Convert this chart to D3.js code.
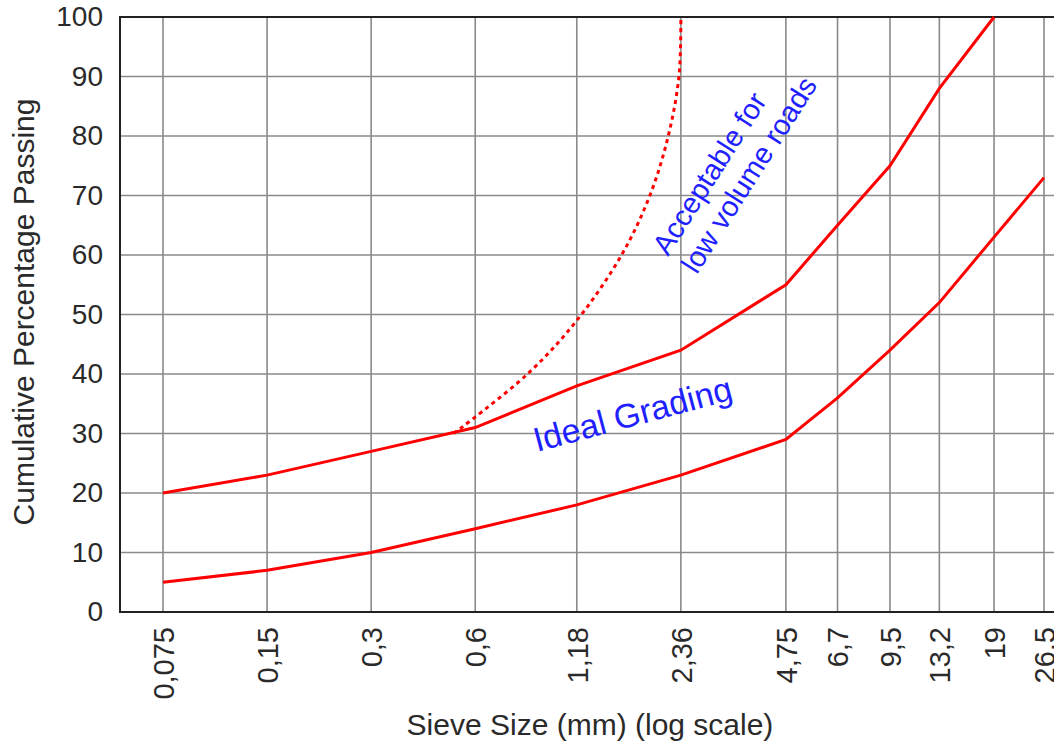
<!DOCTYPE html>
<html lang="en">
<head>
<meta charset="utf-8">
<title>Sieve grading curves</title>
<script src="https://d3js.org/d3.v7.min.js"></script>
<style>
    body { margin: 0; background: #fff; font-family: "Liberation Sans", Arial, sans-serif; }
    .grid line { stroke: #8a8a8a; stroke-width: 1.6px; }
    .frame { stroke: #222; stroke-width: 2px; fill: none; }
    .tick text { fill: #2a2a2a; }
    .curve { fill: none; stroke: #ff0000; stroke-width: 3px; }
    .note { fill: #1f1fff; }
</style>
</head>
<body>
<div id="chart"></div>
<script>
// sieve sizes (mm) and their labels
var sieves = [0.075, 0.15, 0.3, 0.6, 1.18, 2.36, 4.75, 6.7, 9.5, 13.2, 19, 26.5];
var sieveLabels = ["0,075", "0,15", "0,3", "0,6", "1,18", "2,36", "4,75", "6,7", "9,5", "13,2", "19", "26,5"];
var yTicks = [0, 10, 20, 30, 40, 50, 60, 70, 80, 90, 100];

// ideal grading envelope
var upperSizes = [0.075, 0.15, 0.3, 0.6, 1.18, 2.36, 4.75, 6.7, 9.5, 13.2, 19];
var upperPass  = [20, 23, 27, 31, 38, 44, 55, 65, 75, 88, 100];
var lowerSizes = [0.075, 0.15, 0.3, 0.6, 1.18, 2.36, 4.75, 6.7, 9.5, 13.2, 19, 26.5];
var lowerPass  = [5, 7, 10, 14, 18, 23, 29, 36, 44, 52, 63, 73];

// acceptable for low volume roads (dotted)
var lowVolSizes = [0.52, 0.85, 1.18, 1.59, 1.92, 2.17, 2.33, 2.36];
var lowVolPass  = [30, 40, 49, 60, 70, 80, 90, 100];

var width = 1054, height = 750,
    plotLeft = 120, plotRight = 1054, plotTop = 17, plotBottom = 612;

var svg = d3.select("#chart").append("svg")
    .attr("width", width)
    .attr("height", height);

var x = d3.scaleLog().domain([0.075, 26.5]).range([163, 1044]);
var y = d3.scaleLinear().domain([0, 100]).range([plotBottom, plotTop]);

// grid
var grid = svg.append("g").attr("class", "grid");
grid.selectAll("line.h").data(yTicks.slice(1, -1)).enter().append("line")
    .attr("class", "h")
    .attr("x1", plotLeft).attr("x2", plotRight)
    .attr("y1", function(d) { return y(d); })
    .attr("y2", function(d) { return y(d); });
grid.selectAll("line.v").data(sieves).enter().append("line")
    .attr("class", "v")
    .attr("x1", function(d) { return x(d); })
    .attr("x2", function(d) { return x(d); })
    .attr("y1", plotTop).attr("y2", plotBottom);

// frame: left, top and bottom edges
svg.append("path").attr("class", "frame")
    .attr("d", "M" + plotRight + "," + plotTop + "H" + plotLeft + "V" + plotBottom + "H" + plotRight);

// y axis labels
var yAxis = svg.append("g")
    .attr("transform", "translate(" + plotLeft + ",0)")
    .call(d3.axisLeft(y).tickValues(yTicks).tickSize(0).tickPadding(17));
yAxis.select(".domain").remove();
yAxis.selectAll("text")
    .style("font-family", "'Liberation Sans', Arial, sans-serif")
    .style("font-size", "28px");

// x axis labels
var xAxis = svg.append("g")
    .attr("transform", "translate(0," + plotBottom + ")")
    .call(d3.axisBottom(x).tickValues(sieves).tickSize(0)
        .tickFormat(function(d, i) { return sieveLabels[i]; }));
xAxis.select(".domain").remove();
xAxis.selectAll("text")
    .style("font-family", "'Liberation Sans', Arial, sans-serif")
    .style("font-size", "29px")
    .attr("text-anchor", "end")
    .attr("transform", "rotate(-90)")
    .attr("x", -15)
    .attr("y", 0)
    .attr("dy", "0.36em");

// curves
var line = d3.line()
    .x(function(d) { return x(d[0]); })
    .y(function(d) { return y(d[1]); });

svg.append("path").attr("class", "curve")
    .attr("d", line(d3.zip(upperSizes, upperPass)));
svg.append("path").attr("class", "curve")
    .attr("d", line(d3.zip(lowerSizes, lowerPass)));
svg.append("path").attr("class", "curve")
    .attr("stroke-dasharray", "4,4")
    .attr("d", line.curve(d3.curveCatmullRom)(d3.zip(lowVolSizes, lowVolPass)));

// axis titles
svg.append("text")
    .attr("x", 590).attr("y", 735)
    .attr("text-anchor", "middle")
    .style("font-size", "30px").style("fill", "#2a2a2a")
    .text("Sieve Size (mm) (log scale)");
svg.append("text")
    .attr("transform", "translate(34,312)rotate(-90)")
    .attr("text-anchor", "middle")
    .style("font-size", "30px").style("fill", "#2a2a2a")
    .text("Cumulative Percentage Passing");

// annotations
svg.append("text").attr("class", "note")
    .attr("transform", "translate(537,452)rotate(-15)")
    .style("font-size", "34px")
    .text("Ideal Grading");

var note = svg.append("text").attr("class", "note")
    .attr("transform", "translate(668,257)rotate(-57.5)")
    .style("font-size", "29px");
note.append("tspan").attr("x", 0).attr("y", 0).text("Acceptable for");
note.append("tspan").attr("x", 0).attr("y", 34).text("low volume roads");
</script>
</body>
</html>
